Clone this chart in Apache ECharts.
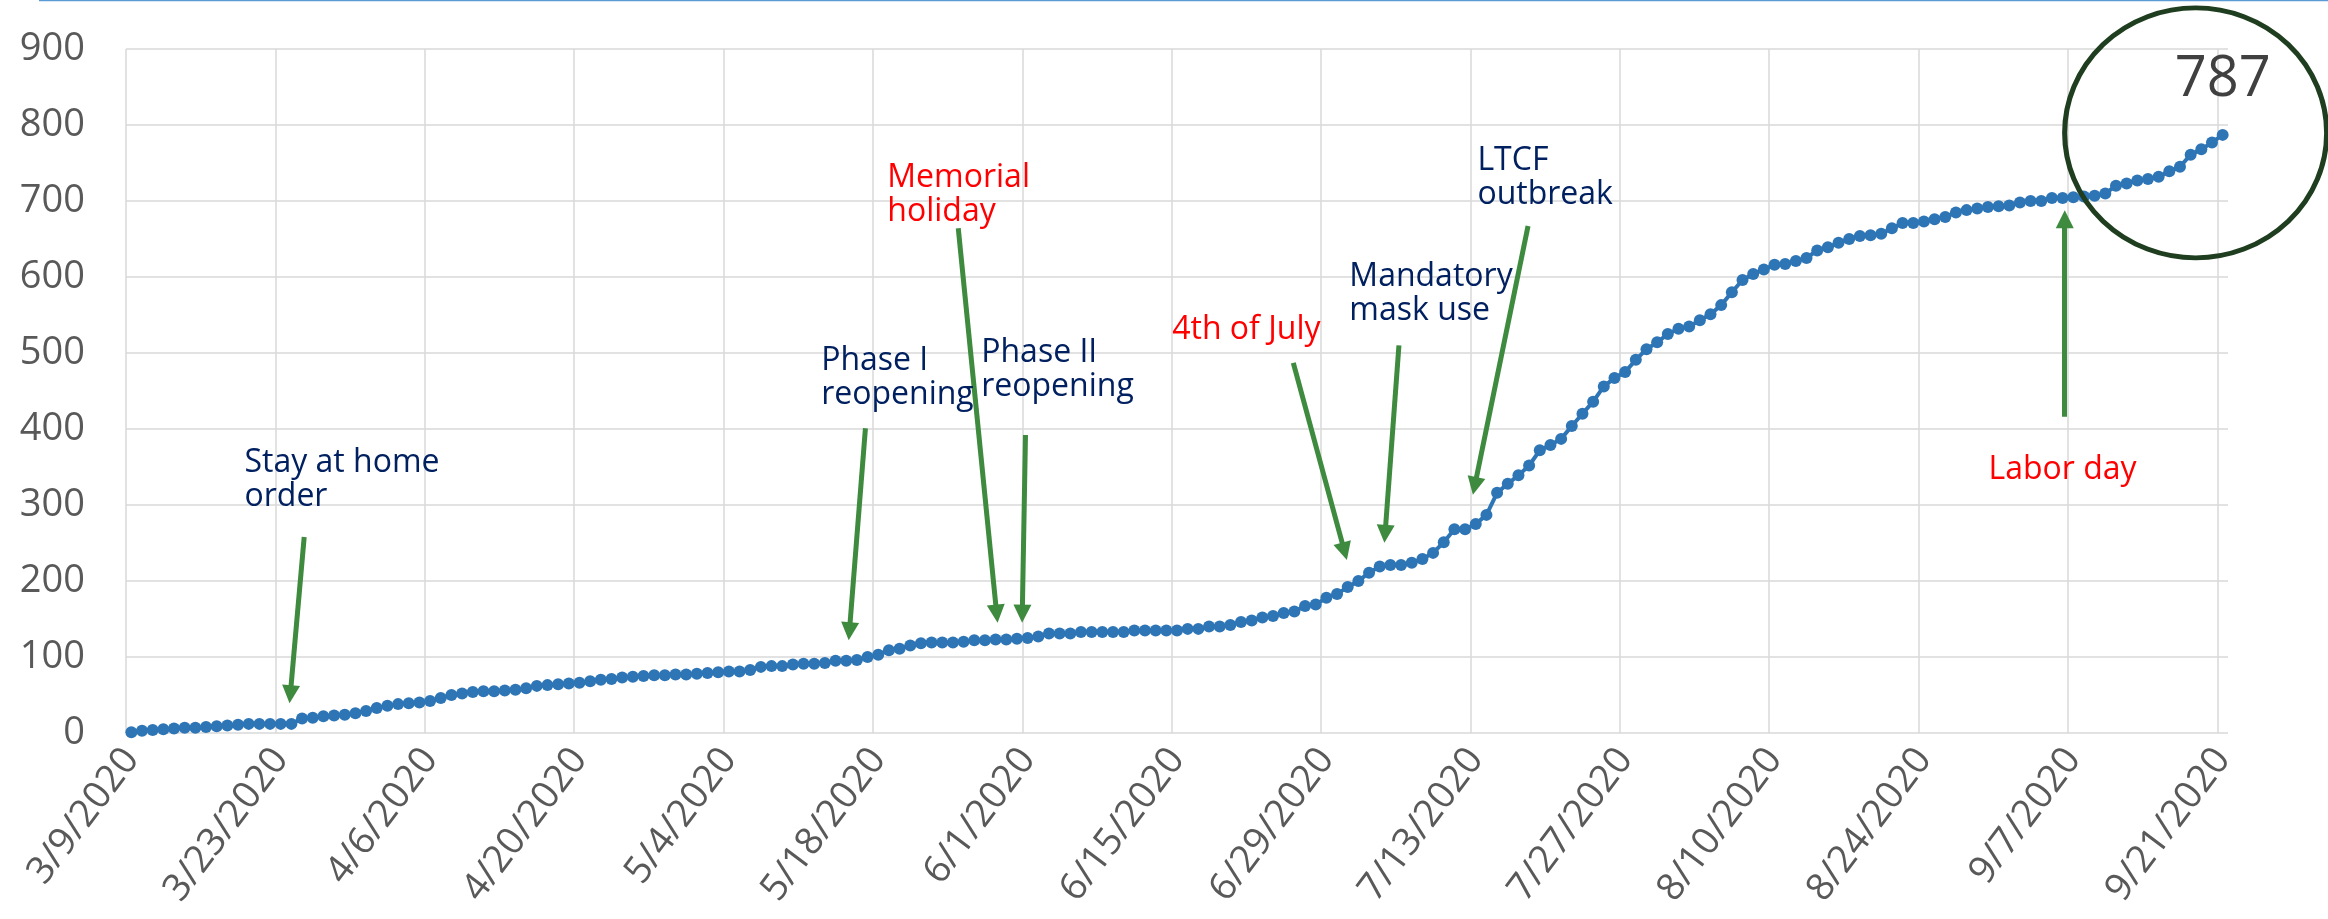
<!DOCTYPE html>
<html>
<head>
<meta charset="utf-8">
<title>Cumulative deaths 3/9/2020 - 9/21/2020</title>
<script src="https://cdn.jsdelivr.net/npm/echarts@6/dist/echarts.min.js"></script>
<style>
  html, body { margin: 0; padding: 0; background: #fff; }
  #chart { width: 2328px; height: 919px; }
</style>
</head>
<body>
<div id="chart"></div>
<script>
// one value per day, starting 3/9/2020
const firstDay = new Date(2020, 2, 9)
const values = [
  1, 3, 4, 5, 6, 7, 7, 8, 9, 10, 11, 12, 12, 12, 12, 12,
  19, 20, 22, 23, 24, 26, 29, 33, 36, 38, 39, 40, 42,
  46, 50, 52, 54, 55, 55, 56, 57, 59, 62, 63, 64, 65, 66, 68, 70, 71, 73, 74, 75, 76, 76, 77, 77, 78, 79, 80, 81,
  81, 83, 87, 88, 88, 90, 91, 91, 92, 95, 95, 96, 100, 103, 109, 111, 115, 118, 119, 119, 119, 120, 122, 122, 123, 123, 124, 125,
  127, 131, 131, 131, 133, 133, 133, 133, 133, 135, 135, 135, 135, 135, 137, 137, 140, 140, 142, 146, 148, 152, 154, 158, 160, 167, 169, 178,
  183, 192, 200, 211, 219, 221, 221, 224, 229, 237, 251, 268, 268, 275, 287, 316, 328, 339, 352, 372, 379, 387, 404, 420, 436, 456, 467, 475,
  491, 505, 514, 525, 532, 535, 543, 551, 563, 580, 596, 604, 610, 616, 617, 621, 625, 635, 639, 645, 650, 654, 655, 657, 664, 671, 671, 673,
  676, 679, 685, 688, 690, 692, 693, 694, 698, 700, 700, 704, 704, 705, 706, 707, 710, 720, 723, 727, 729, 732, 739, 745, 761, 768, 777, 787
]

// date labels m/d/yyyy
const dates = values.map((v, i) => {
  const d = new Date(firstDay.getTime())
  d.setDate(d.getDate() + i)
  return (d.getMonth() + 1) + '/' + d.getDate() + '/' + d.getFullYear()
})

// event notes: [day index, value] of text top-left, arrow start, arrow end
const noteTexts = ['Stay at home\norder', 'Phase I\nreopening', 'Memorial\nholiday', 'Phase II\nreopening',
  '4th of July', 'Mandatory\nmask use', 'LTCF\noutbreak', 'Labor day']
const noteColors = ['#002060', '#002060', '#ff0000', '#002060', '#ff0000', '#002060', '#002060', '#ff0000']
const noteAt = [[10.65, 377], [64.7, 511], [70.9, 752], [79.7, 522], [97.6, 552], [114.2, 622], [126.2, 775], [174.1, 368]]
const arrowFrom = [[16.2, 258], [68.8, 401], [77.5, 664], [83.8, 392], [108.9, 487], [118.8, 510], [130.9, 667], [181.2, 416]]
const arrowTo = [[14.9, 51], [67.3, 134], [81.1, 157], [83.5, 157], [113.7, 239], [117.5, 262], [125.9, 325], [181.2, 676]]

const chart = echarts.init(document.getElementById('chart'))

const lastIndex = values.length - 1

const option = {
  backgroundColor: '#ffffff',
  animation: false,
  textStyle: { fontFamily: 'Open Sans' },
  grid: {
    left: 126,
    right: 100,
    top: 49,
    bottom: 186,
    outerBoundsMode: 'none'
  },
  xAxis: [
    {
      type: 'category',
      data: dates,
      boundaryGap: true,
      axisLine: { show: false },
      axisTick: { show: false },
      axisLabel: {
        interval: 13,
        rotate: 53,
        margin: 20,
        fontSize: 38,
        color: '#595959'
      },
      splitLine: {
        show: true,
        interval: 13,
        showMaxLine: false,
        lineStyle: { color: '#d9d9d9', width: 1.5 }
      }
    },
    {
      // helper axis for notes, same band as the days
      type: 'value',
      show: false,
      min: -0.5,
      max: values.length - 0.5
    }
  ],
  yAxis: {
    type: 'value',
    min: 0,
    max: 900,
    interval: 100,
    axisLine: { show: false },
    axisTick: { show: false },
    axisLabel: {
      margin: 41,
      fontSize: 38,
      color: '#595959'
    },
    splitLine: {
      lineStyle: { color: '#d9d9d9', width: 1.5 }
    }
  },
  series: [
    {
      type: 'line',
      data: values,
      showAllSymbol: true,
      symbol: 'circle',
      symbolSize: 12,
      lineStyle: { color: '#2e75b6', width: 4 },
      itemStyle: { color: '#2e75b6' },
      z: 3
    },
    {
      type: 'scatter',
      xAxisIndex: 1,
      data: [],
      z: 4,
      markLine: {
        silent: true,
        symbol: ['none', 'triangle'],
        symbolSize: 18,
        label: { show: false },
        lineStyle: { color: '#3e8a3e', width: 5, type: 'solid' },
        emphasis: { disabled: true },
        data: arrowFrom.map((p, i) => [{ coord: p }, { coord: arrowTo[i] }])
      },
      markPoint: {
        silent: true,
        data: noteTexts.map((t, i) => ({
          coord: noteAt[i],
          symbol: 'rect',
          symbolSize: 1,
          itemStyle: { color: 'rgba(0,0,0,0)' },
          label: {
            show: true,
            formatter: t,
            position: [0, 0],
            align: 'left',
            verticalAlign: 'top',
            fontSize: 32,
            lineHeight: 34,
            color: noteColors[i]
          }
        })).concat([{
          // ring round the last value
          coord: [lastIndex, values[lastIndex]],
          symbol: 'circle',
          symbolSize: [262, 250],
          symbolOffset: [-27, -2],
          itemStyle: { color: 'rgba(0,0,0,0)', borderColor: '#1f3d1f', borderWidth: 5 },
          label: {
            show: true,
            formatter: String(values[lastIndex]),
            position: 'inside',
            offset: [27, -53],
            fontSize: 56,
            color: '#404040'
          }
        }])
      }
    }
  ],
  graphic: [
    {
      type: 'line',
      shape: { x1: 39, y1: 0.5, x2: 2328, y2: 0.5 },
      style: { stroke: '#5b9bd5', lineWidth: 1.5 },
      silent: true
    }
  ]
}

chart.setOption(option)
</script>
</body>
</html>
